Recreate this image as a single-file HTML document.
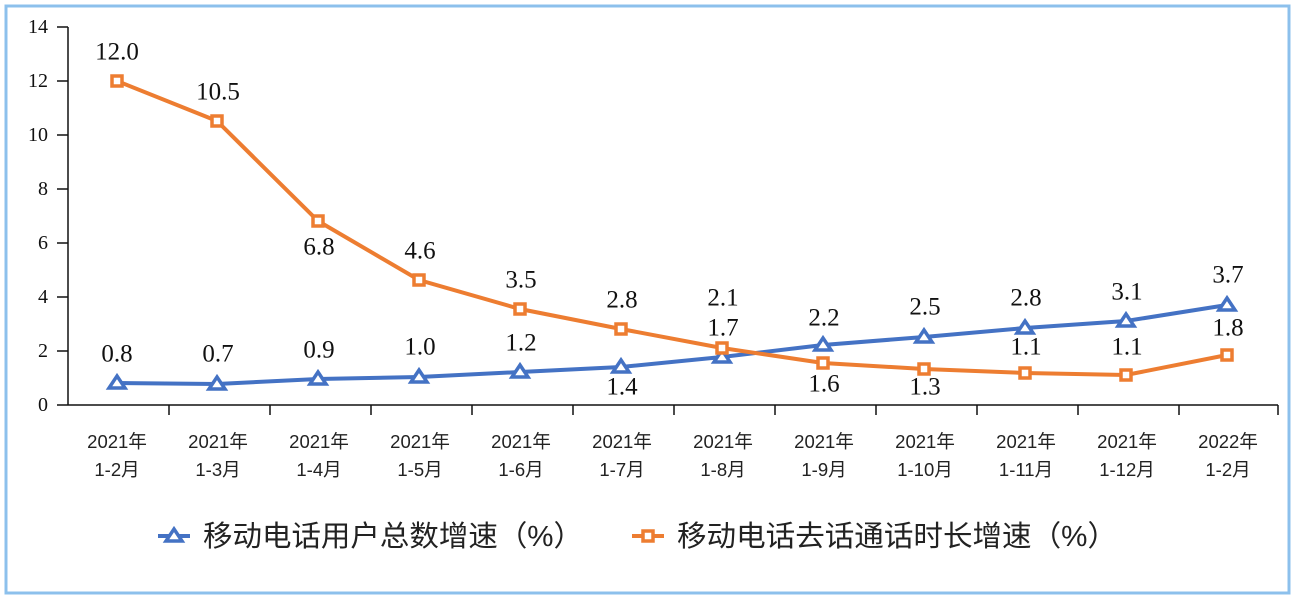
<!DOCTYPE html>
<html><head><meta charset="utf-8"><style>
body{margin:0;background:#fff;}
svg{display:block;}
.t{font-family:"Liberation Serif",serif;font-size:25px;fill:#111;}
.a{font-family:"Liberation Serif",serif;font-size:20px;fill:#111;}
.c{font-family:"Liberation Sans","Noto Sans CJK SC",sans-serif;font-size:18.5px;fill:#222;}
.l{font-family:"Liberation Sans","Noto Sans CJK SC",sans-serif;font-size:29px;fill:#222;}
</style></head><body>
<svg width="1302" height="602" xmlns="http://www.w3.org/2000/svg">
<rect x="6" y="6" width="1283" height="587" fill="#fff" stroke="#8cc0ec" stroke-width="3"/>
<g stroke="#111" stroke-width="1.5">
<line x1="68" y1="27" x2="68" y2="405"/>
<line x1="68" y1="405" x2="1278" y2="405"/>
<line x1="57" y1="27" x2="68" y2="27"/><line x1="57" y1="81" x2="68" y2="81"/><line x1="57" y1="135" x2="68" y2="135"/><line x1="57" y1="189" x2="68" y2="189"/><line x1="57" y1="243" x2="68" y2="243"/><line x1="57" y1="297" x2="68" y2="297"/><line x1="57" y1="351" x2="68" y2="351"/><line x1="57" y1="405" x2="68" y2="405"/>
<line x1="169" y1="405" x2="169" y2="415"/><line x1="270" y1="405" x2="270" y2="415"/><line x1="371" y1="405" x2="371" y2="415"/><line x1="472" y1="405" x2="472" y2="415"/><line x1="573" y1="405" x2="573" y2="415"/><line x1="674" y1="405" x2="674" y2="415"/><line x1="775" y1="405" x2="775" y2="415"/><line x1="876" y1="405" x2="876" y2="415"/><line x1="977" y1="405" x2="977" y2="415"/><line x1="1078" y1="405" x2="1078" y2="415"/><line x1="1179" y1="405" x2="1179" y2="415"/><line x1="1278" y1="405" x2="1278" y2="415"/>
</g>
<g class="a" text-anchor="end" dominant-baseline="central">
<text x="48" y="27">14</text><text x="48" y="81">12</text><text x="48" y="135">10</text><text x="48" y="189">8</text><text x="48" y="243">6</text><text x="48" y="297">4</text><text x="48" y="351">2</text><text x="48" y="405">0</text>
</g>
<g class="c" text-anchor="middle">
<text x="117" y="448">2021年</text><text x="117" y="476">1-2月</text>
<text x="218" y="448">2021年</text><text x="218" y="476">1-3月</text>
<text x="319" y="448">2021年</text><text x="319" y="476">1-4月</text>
<text x="420" y="448">2021年</text><text x="420" y="476">1-5月</text>
<text x="521" y="448">2021年</text><text x="521" y="476">1-6月</text>
<text x="622" y="448">2021年</text><text x="622" y="476">1-7月</text>
<text x="723" y="448">2021年</text><text x="723" y="476">1-8月</text>
<text x="824" y="448">2021年</text><text x="824" y="476">1-9月</text>
<text x="925" y="448">2021年</text><text x="925" y="476">1-10月</text>
<text x="1026" y="448">2021年</text><text x="1026" y="476">1-11月</text>
<text x="1127" y="448">2021年</text><text x="1127" y="476">1-12月</text>
<text x="1228" y="448">2022年</text><text x="1228" y="476">1-2月</text>
</g>
<polyline fill="none" stroke="#4472c4" stroke-width="4" points="117,383 217,384 318,379 419,377 520,372 621,367 722,357 823,345 924,337 1025,328 1126,321 1227,305"/>
<polyline fill="none" stroke="#ed7d31" stroke-width="4" points="117,81 217,121 318,221 419,280 520,309 621,329 722,348 823,363 924,369 1025,373 1126,375 1227,355"/>
<g fill="#fff" stroke="#4472c4" stroke-width="3.5">
<path d="M117,376 l8,12 h-16z"/><path d="M217,377 l8,12 h-16z"/><path d="M318,372 l8,12 h-16z"/><path d="M419,370 l8,12 h-16z"/><path d="M520,365 l8,12 h-16z"/><path d="M621,360 l8,12 h-16z"/><path d="M722,350 l8,12 h-16z"/><path d="M823,338 l8,12 h-16z"/><path d="M924,330 l8,12 h-16z"/><path d="M1025,321 l8,12 h-16z"/><path d="M1126,314 l8,12 h-16z"/><path d="M1227,298 l8,12 h-16z"/>
</g>
<g fill="#fff" stroke="#ed7d31" stroke-width="3.5">
<rect x="112" y="76" width="10" height="10"/><rect x="212" y="116" width="10" height="10"/><rect x="313" y="216" width="10" height="10"/><rect x="414" y="275" width="10" height="10"/><rect x="515" y="304" width="10" height="10"/><rect x="616" y="324" width="10" height="10"/><rect x="717" y="343" width="10" height="10"/><rect x="818" y="358" width="10" height="10"/><rect x="919" y="364" width="10" height="10"/><rect x="1020" y="368" width="10" height="10"/><rect x="1121" y="370" width="10" height="10"/><rect x="1222" y="350" width="10" height="10"/>
</g>
<g class="t" text-anchor="middle" dominant-baseline="central">
<text x="117" y="354">0.8</text><text x="218" y="354">0.7</text><text x="319" y="350">0.9</text><text x="420" y="347">1.0</text><text x="521" y="343">1.2</text><text x="622" y="387">1.4</text><text x="723" y="328">1.7</text><text x="824" y="318">2.2</text><text x="925" y="307">2.5</text><text x="1026" y="298">2.8</text><text x="1127" y="292">3.1</text><text x="1228" y="275">3.7</text>
<text x="117" y="52">12.0</text><text x="218" y="92">10.5</text><text x="319" y="247">6.8</text><text x="420" y="251">4.6</text><text x="521" y="280">3.5</text><text x="622" y="300">2.8</text><text x="723" y="298">2.1</text><text x="824" y="384">1.6</text><text x="925" y="387">1.3</text><text x="1026" y="347">1.1</text><text x="1127" y="347">1.1</text><text x="1228" y="328">1.8</text>
</g>
<line x1="158" y1="536" x2="190" y2="536" stroke="#4472c4" stroke-width="4"/>
<path d="M174,529 l8,12 h-16z" fill="#fff" stroke="#4472c4" stroke-width="3.5"/>
<text class="l" x="203" y="546" textLength="380" lengthAdjust="spacingAndGlyphs">移动电话用户总数增速（%）</text>
<line x1="632" y1="536" x2="664" y2="536" stroke="#ed7d31" stroke-width="4"/>
<rect x="643" y="531" width="10" height="10" fill="#fff" stroke="#ed7d31" stroke-width="3.5"/>
<text class="l" x="677" y="546" textLength="440" lengthAdjust="spacingAndGlyphs">移动电话去话通话时长增速（%）</text>
</svg>
</body></html>
